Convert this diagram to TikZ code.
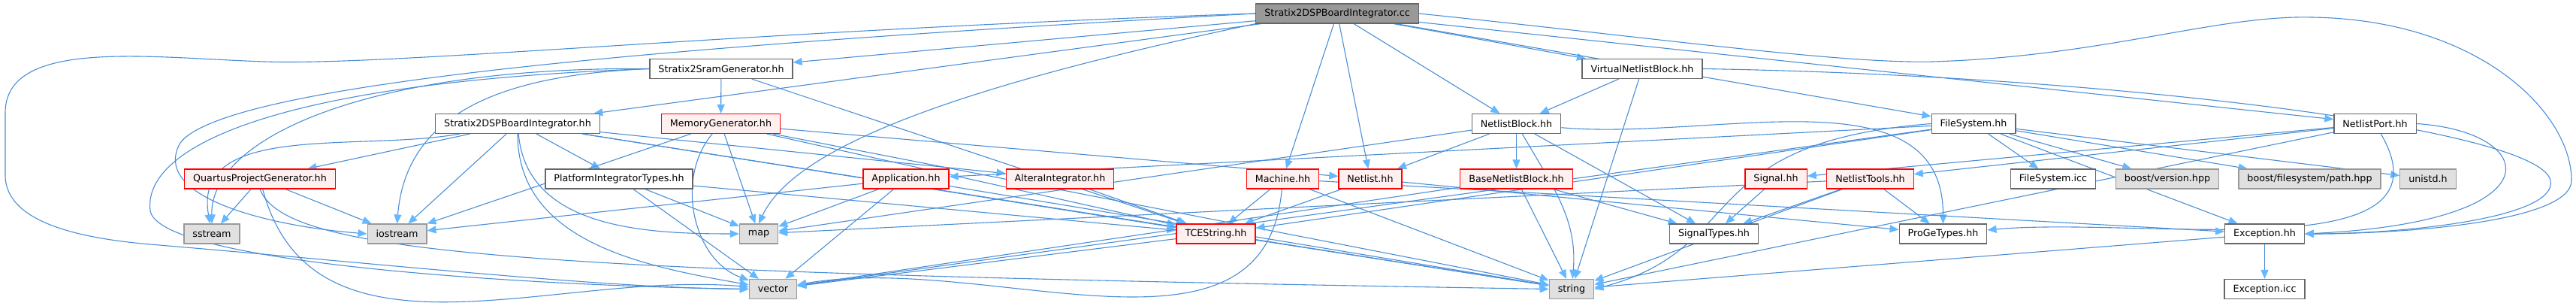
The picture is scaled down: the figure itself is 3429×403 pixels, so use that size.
\documentclass[tikz,border=0pt]{standalone}
\usepackage{fontspec}
\setmainfont{DejaVu Sans}
\usetikzlibrary{arrows.meta}

\definecolor{edgeblue}{HTML}{4A8ED6}
\definecolor{tipblue}{HTML}{63B8FF}
\definecolor{rootfill}{HTML}{999999}
\definecolor{boxline}{HTML}{666666}
\definecolor{redfill}{HTML}{FFF0F0}
\definecolor{sysfill}{HTML}{E0E0E0}
\definecolor{sysline}{HTML}{999999}

\pgfdeclarelayer{edges}
\pgfsetlayers{edges,main}

\tikzset{
  file/.style={draw=boxline, fill=white, line width=1.2pt, minimum height=26pt,
    inner xsep=11.5pt, inner ysep=0pt, font=\fontsize{12.7}{14}\selectfont},
  rootfile/.style={file, fill=rootfill},
  truncfile/.style={file, draw=red, fill=redfill},
  sysfile/.style={file, draw=sysline, fill=sysfill},
  dep/.style={draw=edgeblue, line width=1.1pt,
    -{Triangle[length=12pt,width=10pt,color=tipblue]}},
}

\begin{document}
\begin{tikzpicture}[x=1pt, y=-1pt, every edge/.style={dep}]
\useasboundingbox (0,0) rectangle (3429,403);
% files, row by row
\node[rootfile] (root) at (1780,18) {Stratix2DSPBoardIntegrator.cc};
\node[file] (s2sram) at (960,91.5) {Stratix2SramGenerator.hh};
\node[file] (vnb) at (2186,91.5) {VirtualNetlistBlock.hh};
\node[file] (s2dsp) at (689,164.5) {Stratix2DSPBoardIntegrator.hh};
\node[truncfile] (memgen) at (959.5,164.5) {MemoryGenerator.hh};
\node[file] (nb) at (2018.5,164.5) {NetlistBlock.hh};
\node[file] (fs) at (2627,164.5) {FileSystem.hh};
\node[file] (np) at (3161.5,164.5) {NetlistPort.hh};
\node[truncfile] (qpg) at (346,238) {QuartusProjectGenerator.hh};
\node[file] (pit) at (824,238) {PlatformIntegratorTypes.hh};
\node[truncfile] (app) at (1206,238) {Application.hh};
\node[truncfile] (altera) at (1411,238) {AlteraIntegrator.hh};
\node[truncfile] (machine) at (1707.5,238) {Machine.hh};
\node[truncfile] (netlist) at (1824,238) {Netlist.hh};
\node[truncfile] (bnb) at (2018.5,238) {BaseNetlistBlock.hh};
\node[truncfile] (signal) at (2364,238) {Signal.hh};
\node[truncfile] (ntools) at (2489.5,238) {NetlistTools.hh};
\node[file] (fsicc) at (2733,238) {FileSystem.icc};
\node[sysfile] (bver) at (2885,238) {boost/version.hpp};
\node[sysfile] (bpath) at (3074.5,238) {boost/filesystem/path.hpp};
\node[sysfile] (unistd) at (3232,238) {unistd.h};
\node[sysfile] (sstream) at (282,311) {sstream};
\node[sysfile] (iostream) at (528.5,311) {iostream};
\node[sysfile] (map) at (1010,311) {map};
\node[truncfile] (tcestr) at (1618.5,311) {TCEString.hh};
\node[file] (sigtypes) at (2281.5,311) {SignalTypes.hh};
\node[file] (progetypes) at (2586.5,311) {ProGeTypes.hh};
\node[file] (exc) at (3014.5,311) {Exception.hh};
\node[sysfile] (vector) at (1029,384.5) {vector};
\node[sysfile] (string) at (2092,384.5) {string};
\node[file] (excicc) at (3014.5,384.5) {Exception.icc};

\begin{pgfonlayer}{edges}
% includes of the .cc
\path (root) edge (s2sram) edge (s2dsp) edge (vnb) edge (nb) edge (fs) edge (np)
  edge (machine) edge (netlist);
\draw[dep] (root.west) .. controls (1000,40) and (520,88) .. (352,82)
  .. controls (200,77) and (7,50) .. (7,150) -- (7,233)
  .. controls (7,300) and (120,318) .. (200,325)
  .. controls (500,350) and (800,383) .. (vector.west);
\draw[dep] (root.east) .. controls (2200,50) and (2450,85) .. (2573,82)
  .. controls (2800,75) and (2950,20) .. (3077,23)
  .. controls (3300,26) and (3423,150) .. (3423,240)
  .. controls (3423,295) and (3200,311) .. (exc.east);
\draw[dep] (root.south west) .. controls (1300,110) and (1060,190) .. (map.north);
\draw[dep] (root.west) .. controls (900,60) and (300,110) .. (240,190)
  .. controls (200,260) and (350,300) .. (iostream.west);
% second level
\draw[dep] (s2sram.west) .. controls (650,100) and (540,160) .. (iostream.north);
\draw[dep] (s2sram.west) .. controls (500,88) and (280,180) .. (sstream.north);
\draw[dep] (s2sram.west) .. controls (350,110) and (190,200) .. (200,280)
  .. controls (210,350) and (700,380) .. (vector.west);
\path (s2sram) edge (memgen) edge (tcestr);
\path (vnb) edge (nb) edge (string);
\draw[dep] (vnb.east) .. controls (2800,100) and (3380,170) .. (3395,240)
  .. controls (3405,290) and (3200,311) .. (exc.east);
% third level
\path (s2dsp) edge (qpg) edge (pit) edge (altera) edge (iostream) edge (tcestr)
  edge (string) edge[out=-85,in=180] (map) edge[out=-90,in=170] (vector)
  edge[out=190,in=100] (sstream);
\path (memgen) edge (netlist) edge (iostream) edge (map) edge (tcestr) edge (string)
  edge[out=-130,in=160] (vector);
\path (nb) edge (bnb) edge (netlist) edge (map) edge (sigtypes)
  edge[out=-60,in=85] (string) edge[out=-5,in=90] (progetypes);
\path (fs) edge (fsicc) edge (bver) edge (bpath) edge (unistd) edge (app)
  edge (tcestr) edge (vector) edge (exc);
\draw[dep] (fs.west) .. controls (2250,190) and (2330,330) .. (string.east);
\path (np) edge (signal) edge (ntools) edge (string) edge[out=-60,in=5] (progetypes);
\draw[dep] (np.east) .. controls (3380,175) and (3410,295) .. (exc.east);
% fourth level
\path (qpg) edge (sstream) edge (iostream) edge[out=-75,in=175] (vector);
\draw[dep] (qpg.south) .. controls (380,340) and (700,362) .. (string.west);
\path (pit) edge (map) edge (vector) edge (tcestr);
\path (app) edge (iostream) edge (map) edge (vector) edge (string);
\path (altera) edge (tcestr);
\path (machine) edge (tcestr) edge (string) edge (exc) edge[out=-95,in=10] (vector);
\path (netlist) edge (tcestr) edge (progetypes);
\path (bnb) edge (vector) edge (string) edge (sigtypes);
\path (signal) edge (sigtypes);
\path (ntools) edge (sigtypes) edge (progetypes) edge (string) edge (map);
% last level
\path (tcestr) edge (string) edge (vector);
\path (exc) edge (excicc) edge (string);
\end{pgfonlayer}
\end{tikzpicture}
\end{document}
